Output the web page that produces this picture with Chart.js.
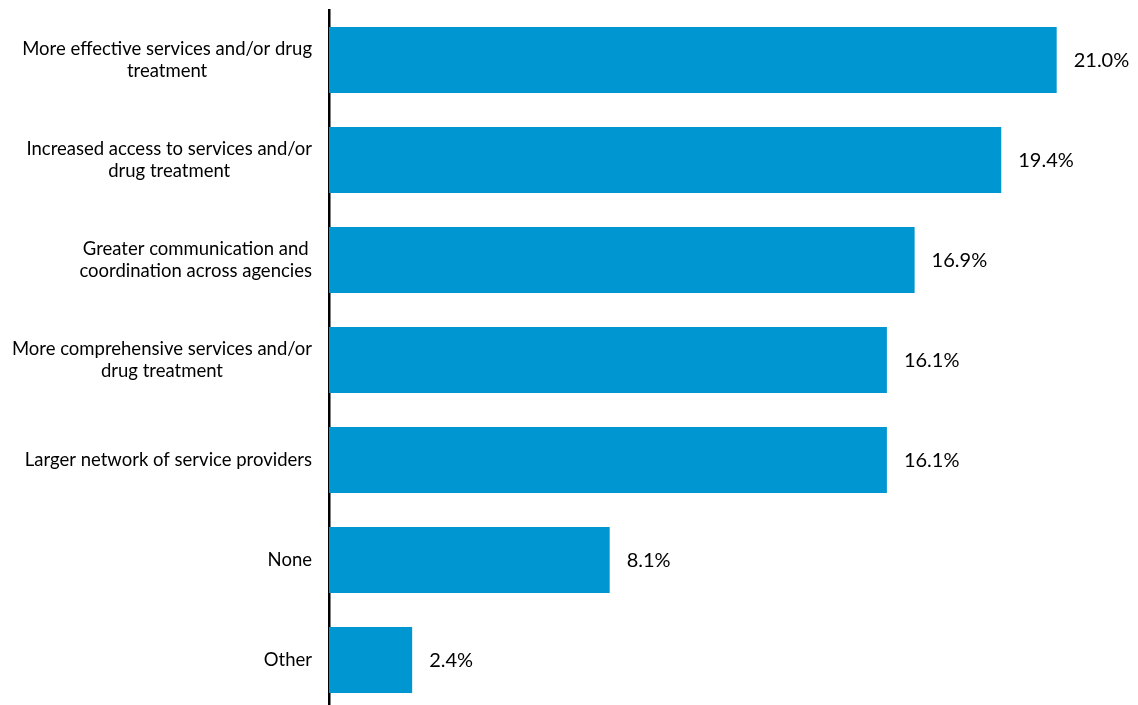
<!DOCTYPE html>
<html>
<head>
<meta charset="utf-8">
<script src="https://cdn.jsdelivr.net/npm/chart.js@4/dist/chart.umd.min.js"></script>
<style>
  html, body { margin: 0; padding: 0; overflow: hidden; background: #fff; }
  #wrap { position: relative; width: 1138px; height: 720px; }
</style>
</head>
<body>
<div id="wrap"><canvas id="c"></canvas></div>
<script>
const categories = [
  ["More effective services and/or drug", "treatment"],
  ["Increased access to services and/or", "drug treatment"],
  ["Greater communication and", "coordination across agencies"],
  ["More comprehensive services and/or", "drug treatment"],
  ["Larger network of service providers"],
  ["None"],
  ["Other"]
];
const values = [21.0, 19.4, 16.9, 16.1, 16.1, 8.1, 2.4];
const valueLabels = ["21.0%", "19.4%", "16.9%", "16.1%", "16.1%", "8.1%", "2.4%"];

const FONT = "Lato, 'Open Sans', sans-serif";

const labelPlugin = {
  id: 'customLabels',
  afterDatasetsDraw(chart) {
    const ctx = chart.ctx;
    const y = chart.scales.y;
    const x = chart.scales.x;
    ctx.save();
    ctx.font = "18.5px " + FONT;
    ctx.fillStyle = "#000";
    ctx.textBaseline = "middle";
    ctx.textAlign = "center";
    const lineH = 22;
    const rightEdge = y.right - 17;
    categories.forEach((lines, i) => {
      const cy = y.getPixelForValue(i);
      let maxW = 0;
      lines.forEach(l => { maxW = Math.max(maxW, ctx.measureText(l).width); });
      const cx = rightEdge - maxW / 2;
      const startY = cy - (lines.length - 1) * lineH / 2;
      lines.forEach((l, k) => ctx.fillText(l, cx, startY + k * lineH));
    });
    ctx.font = "20px " + FONT;
    ctx.textAlign = "left";
    values.forEach((v, i) => {
      const px = x.getPixelForValue(v);
      const cy = y.getPixelForValue(i);
      ctx.fillText(valueLabels[i], px + 17, cy + 1);
    });
    ctx.restore();
  }
};

new Chart(document.getElementById('c'), {
  type: 'bar',
  data: {
    labels: categories.map(c => c.join(' ')),
    datasets: [{
      data: values,
      backgroundColor: '#0096d2',
      borderWidth: 0,
      barPercentage: 0.66,
      categoryPercentage: 1.0
    }]
  },
  options: {
    indexAxis: 'y',
    responsive: true,
    maintainAspectRatio: false,
    animation: false,
    layout: { padding: { top: 10, bottom: 10, right: 12, left: 0 } },
    plugins: { legend: { display: false }, tooltip: { enabled: false } },
    scales: {
      x: { display: false, min: 0, max: 23 },
      y: {
        grid: { display: false },
        border: { display: true, color: '#000', width: 2.5 },
        ticks: { display: false },
        afterFit(scale) { scale.width = 329; }
      }
    }
  },
  plugins: [labelPlugin]
});
</script>
</body>
</html>
